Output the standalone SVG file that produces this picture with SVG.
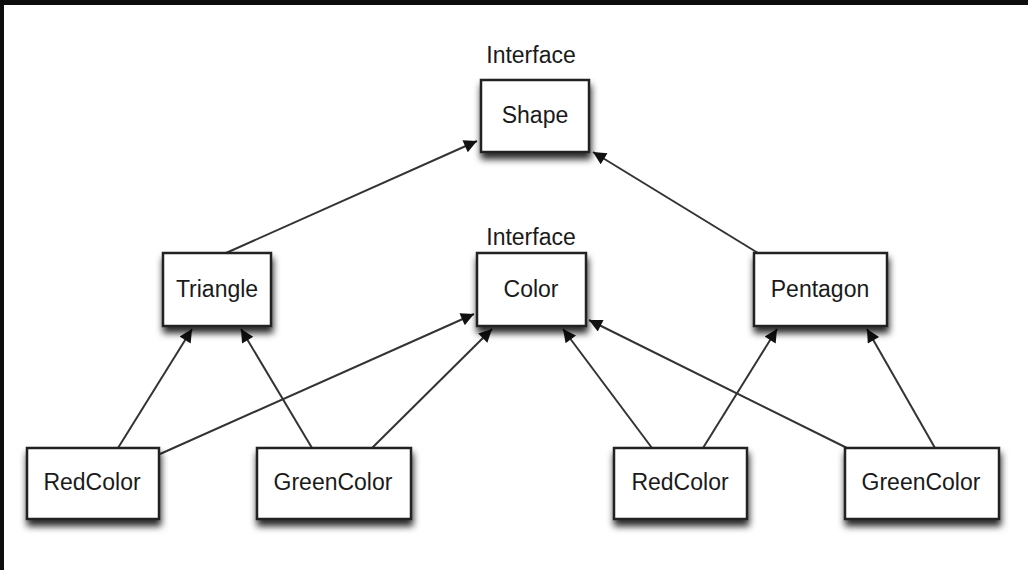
<svg xmlns="http://www.w3.org/2000/svg" width="1028" height="570" viewBox="0 0 1028 570">
<defs>
<style>
.box{fill:#fff;stroke:#222;stroke-width:2.5;filter:url(#sh)}
.lbl{font-family:"Liberation Sans",Arial,sans-serif;font-size:23px;fill:#1a1a1a;text-anchor:middle}
.edge{stroke:#333;stroke-width:2;fill:none;marker-end:url(#arr)}
</style>
<filter id="sh" x="-20%" y="-20%" width="140%" height="170%">
<feDropShadow dx="1" dy="6" stdDeviation="3.5" flood-color="#000" flood-opacity="0.85"/>
</filter>
<marker id="arr" viewBox="0 0 10 10" refX="10" refY="5" markerWidth="16" markerHeight="13" markerUnits="userSpaceOnUse" orient="auto">
<path d="M0,0 L10,5 L0,10 z" fill="#111"/>
</marker>
</defs>
<rect width="1028" height="570" fill="#0d0d0d"/>
<rect x="4" y="5" width="1024" height="565" fill="#fff"/>
<g id="connectors">
<line class="edge" x1="226" y1="253" x2="477" y2="141"/>
<line class="edge" x1="758" y1="253" x2="593" y2="152"/>
<line class="edge" x1="118" y1="448" x2="192" y2="329"/>
<line class="edge" x1="312" y1="448" x2="241" y2="329"/>
<line class="edge" x1="160" y1="454" x2="474" y2="314"/>
<line class="edge" x1="372" y1="448" x2="492" y2="329"/>
<line class="edge" x1="652" y1="448" x2="563" y2="329"/>
<line class="edge" x1="847" y1="448" x2="589" y2="320"/>
<line class="edge" x1="703" y1="448" x2="777" y2="329"/>
<line class="edge" x1="935" y1="448" x2="867" y2="329"/>
</g>
<g id="shape">
<text class="lbl" x="531" y="63">Interface</text>
<rect class="box" x="481" y="80" width="108" height="72"/>
<text class="lbl" x="535" y="123">Shape</text>
</g>
<g id="triangle">
<rect class="box" x="163" y="253" width="108" height="73"/>
<text class="lbl" x="217" y="297">Triangle</text>
</g>
<g id="color">
<text class="lbl" x="531" y="245">Interface</text>
<rect class="box" x="477" y="253" width="109" height="73"/>
<text class="lbl" x="531" y="297">Color</text>
</g>
<g id="pentagon">
<rect class="box" x="754" y="253" width="133" height="73"/>
<text class="lbl" x="820" y="297">Pentagon</text>
</g>
<g id="redcolor1">
<rect class="box" x="27" y="448" width="132" height="71"/>
<text class="lbl" x="92" y="490">RedColor</text>
</g>
<g id="greencolor1">
<rect class="box" x="257" y="448" width="154" height="71"/>
<text class="lbl" x="333" y="490">GreenColor</text>
</g>
<g id="redcolor2">
<rect class="box" x="614" y="448" width="133" height="71"/>
<text class="lbl" x="680" y="490">RedColor</text>
</g>
<g id="greencolor2">
<rect class="box" x="845" y="448" width="154" height="71"/>
<text class="lbl" x="921" y="490">GreenColor</text>
</g>
</svg>
